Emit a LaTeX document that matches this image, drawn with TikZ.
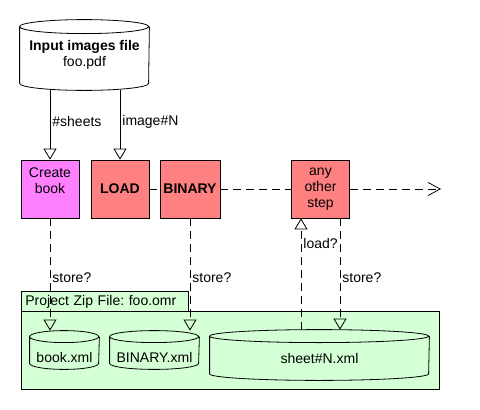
\documentclass[tikz,border=0pt]{standalone}
\usepackage{fontspec}
\setmainfont{Liberation Sans}
\usepackage{tikz}
\usetikzlibrary{positioning}
\usetikzlibrary{shapes.geometric,arrows.meta}
\definecolor{bookpink}{HTML}{FF80FF}
\definecolor{stepred}{HTML}{FF8080}
\definecolor{zipgreen}{HTML}{D5FFD5}
\tikzstyle{stepbox} = [rectangle, minimum width=58pt, minimum height=58pt, text centered, align=center, draw=black, fill=stepred]
\tikzstyle{bookbox} = [stepbox, fill=bookpink]
\tikzstyle{datafile} = [rectangle, text centered, align=center]
\tikzstyle{flow} = [-{Triangle[open,length=11pt,width=13pt]}]
\tikzstyle{dataflow} = [flow, dash pattern=on 8pt off 5pt]
\tikzstyle{lbl} = [right, inner sep=2pt]
% cylinder outline round a datafile node: name, half width, cap radius
\newcommand{\drum}[3]{%
  \draw ([yshift=-#3]#1.north west) arc[start angle=180, end angle=360, x radius=#2, y radius=#3]
    arc[start angle=0, end angle=180, x radius=#2, y radius=#3]
    -- ([yshift=#3]#1.south west) arc[start angle=180, end angle=360, x radius=#2, y radius=#3]
    -- ([yshift=-#3]#1.north east);}

\begin{document}
\begin{tikzpicture}[x=1pt, y=-1pt, line width=0.8pt, font=\fontsize{14pt}{16pt}\selectfont\frenchspacing, node distance=70pt]
\useasboundingbox (0,0) rectangle (480,410);
% input file and steps
\node (input) [datafile, minimum width=129pt, minimum height=70pt] at (84.5,55) {\textbf{Input images file}\\foo.pdf};
\drum{input}{64.5pt}{7pt}
\node (create) [bookbox] at (50,189) {Create\\book\\};
\node (load) [stepbox, right of=create] {\textbf{LOAD}};
\node (binary) [stepbox, right of=load] {\textbf{BINARY}};
\node (other) [stepbox, right of=binary, xshift=60.5pt] {any\\other\\step};
\coordinate (done) at (441,189);
% project zip file
\node (ziptab) [draw, fill=zipgreen, anchor=north west, minimum height=20pt, text width=159pt, inner xsep=4pt, align=left] at (21,291) {Project Zip File: foo.omr};
\node (zip) [draw, fill=zipgreen, anchor=north west, minimum width=418pt, minimum height=78pt] at (21,311) {};
\node (bookxml) [datafile, minimum width=69pt, minimum height=38pt, text height=25pt, text depth=0pt] at (64.5,350) {book.xml};
\drum{bookxml}{34.5pt}{6pt}
\node (binxml) [datafile, minimum width=89pt, minimum height=38pt, text height=25pt, text depth=0pt] at (154.5,350) {BINARY.xml};
\drum{binxml}{44.5pt}{6pt}
\node (sheetxml) [datafile, minimum width=219pt, minimum height=50pt, text height=16pt, text depth=0pt] at (319.5,355) {sheet\#N.xml};
\drum{sheetxml}{109.5pt}{6.5pt}
% flows
\draw [flow] (create.north |- input.south) -- node[lbl, pos=0.45]{\#sheets} (create.north);
\draw [flow] (load.north |- input.south) -- node[lbl, pos=0.45]{image\#N} (load.north);
\draw [dash pattern=on 8pt off 5pt] (load) -- (binary);
\draw [dash pattern=on 8pt off 5pt] (binary) -- (other);
\draw [dash pattern=on 8pt off 5pt, -{Straight Barb[length=12pt,width=13pt]}] (other) -- (done);
\draw [dataflow] (create.south) -- node[lbl, pos=0.53]{store?} (create.south |- bookxml.north);
\draw [dataflow] (binary.south) -- node[lbl, pos=0.53]{store?} (binary.south |- binxml.north);
\draw [dataflow] ([xshift=-19.5pt]other.south |- sheetxml.north) -- node[lbl, pos=0.77]{load?} ([xshift=-19.5pt]other.south);
\draw [dataflow] ([xshift=19.5pt]other.south) -- node[lbl, pos=0.53]{store?} ([xshift=19.5pt]other.south |- sheetxml.north);
\end{tikzpicture}
\end{document}
